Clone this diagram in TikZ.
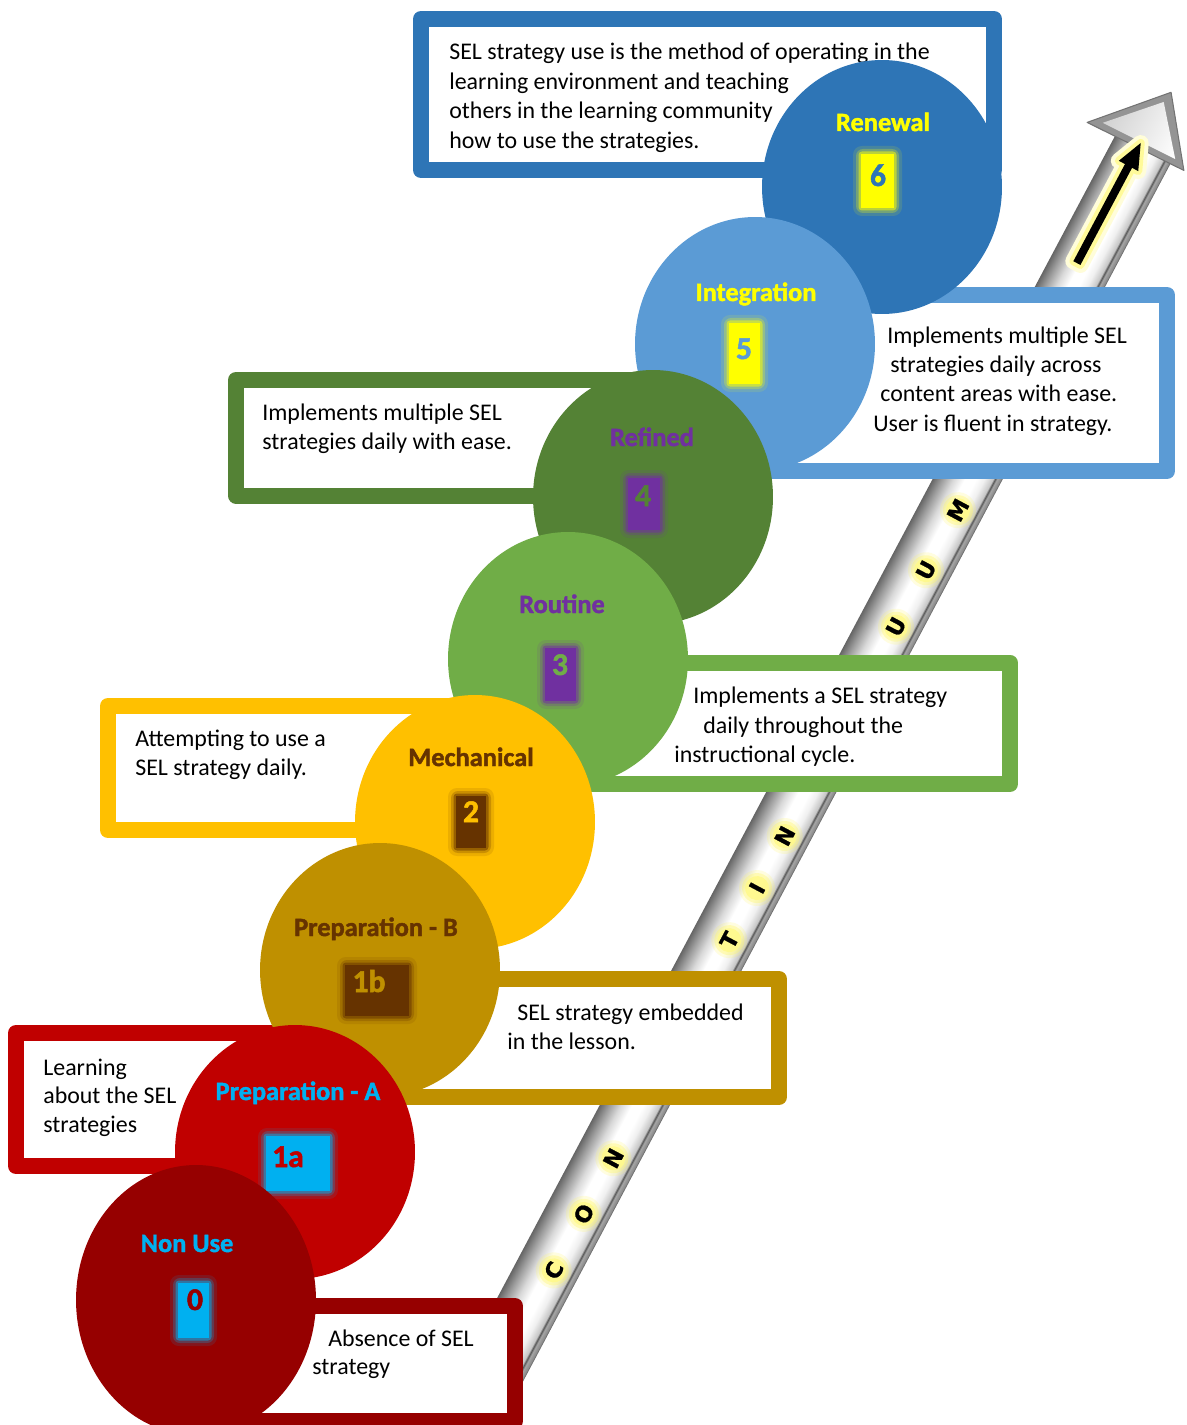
\documentclass[tikz,border=0pt]{standalone}
\usepackage{fontspec}
\setmainfont{Carlito}
\newfontfamily\heavyfont{Carlito}[BoldFeatures={FakeBold=1.6}]
\newfontfamily\arrowfont{DejaVu Sans}[BoldFeatures={FakeBold=1}]
\usetikzlibrary{arrows.meta}
\definecolor{cRenew}{HTML}{2E75B6}
\definecolor{cInteg}{HTML}{5B9BD5}
\definecolor{cRefin}{HTML}{548235}
\definecolor{cRout}{HTML}{70AD47}
\definecolor{cMech}{HTML}{FFC000}
\definecolor{cPrepB}{HTML}{BF9000}
\definecolor{cPrepA}{HTML}{C00000}
\definecolor{cNon}{HTML}{960000}
\definecolor{cYel}{HTML}{FFFF00}
\definecolor{cPurp}{HTML}{7030A0}
\definecolor{cBrown}{HTML}{663300}
\definecolor{cCyan}{HTML}{00B0F0}
\pgfdeclareverticalshading{metal}{100bp}{color(0bp)=(black!70); color(25bp)=(black!70); color(26.5bp)=(black!45); color(29bp)=(black!35); color(30.5bp)=(black!65); color(32bp)=(black!22); color(38bp)=(black!6); color(44bp)=(white); color(52bp)=(white); color(60bp)=(black!15); color(68bp)=(black!38); color(75bp)=(black!60); color(100bp)=(black!60)}
\newcommand\glowbox[5]{%
  \fill[#1, opacity=0.12, rounded corners=5pt] (#2-8,#3-8) rectangle (#4+8,#5+8);
  \fill[#1, opacity=0.25, rounded corners=4pt] (#2-5,#3-5) rectangle (#4+5,#5+5);
  \fill[#1, opacity=0.5, rounded corners=2pt] (#2-2.5,#3-2.5) rectangle (#4+2.5,#5+2.5);
  \fill[#1] (#2,#3) rectangle (#4,#5);}
\begin{document}
\begin{tikzpicture}[x=0.02cm,y=-0.02cm,
  frame/.style={line width=0.32cm, line join=round, fill=white},
  boxtext/.style={anchor=base west, inner sep=0pt, font=\fontsize{13.6}{16}\selectfont},
  stagelabel/.style={anchor=base, inner sep=0pt, font=\heavyfont\fontsize{15}{18}\selectfont\bfseries},
  stagenum/.style={anchor=base, inner sep=0pt, font=\heavyfont\fontsize{18}{20}\selectfont\bfseries},
  rung/.style={anchor=center, inner sep=0pt, rotate=62, font=\arrowfont\bfseries\fontsize{12.5}{14}\selectfont},
  glowA/.style={yellow!60!white, opacity=0.2},
  glowB/.style={yellow!60!white, opacity=0.35},
  glowC/.style={yellow!45!white, opacity=0.9},
  disc/.style={x radius=2.4cm, y radius=2.54cm}]
\useasboundingbox (0,0) rectangle (1186,1425);

% ---------- continuum arrow ----------
\begin{scope}[transform canvas={shift={(486,1385)},rotate=62}]
  \shade[shading=metal] (-15,-31) rectangle (1402,31);
  \filldraw[fill=black!42, draw=black!55, line width=0.6pt, line join=round] (1397,-62) -- (1463,-2) -- (1400,46) -- cycle;
  \shade[top color=black!18, bottom color=white] (1404,-48) -- (1451,-4) -- (1406,33) -- cycle;
\end{scope}
\begin{scope}[shift={(486,1385)},rotate=62]
  \foreach \a/\L/\n in {133/C/rc,197/O/ro,260/N/rn,507/T/rt,566/I/ri,625/N/rn2,862/U/ru,926/U/ru2,994/M/rm}{
    \fill[glowA] (\a,6) circle[radius=0.36cm];
    \fill[glowB] (\a,6) circle[radius=0.3cm];
    \fill[glowC] (\a,6) circle[radius=0.24cm];
    \node[rung] (\n) at (\a,6) {\L};
  }
  \draw[yellow!15!white, line width=0.32cm, line join=round, line cap=round] (1268,-9) -- (1378,-9) -- (1378,-16) -- (1404,-5) -- (1378,6) -- (1378,-1) -- (1268,-1) -- cycle;
  \draw[yellow!40!white, line width=0.16cm, line join=round] (1268,-9) -- (1378,-9) -- (1378,-16) -- (1404,-5) -- (1378,6) -- (1378,-1) -- (1268,-1) -- cycle;
  \fill[black] (1268,-9) -- (1378,-9) -- (1378,-16) -- (1404,-5) -- (1378,6) -- (1378,-1) -- (1268,-1) -- cycle;
\end{scope}

% ---------- description boxes ----------
\draw[frame, draw=cRenew] (421,19) rectangle (994,170);
\draw[frame, draw=cInteg] (700,295) rectangle (1167,471);
\draw[frame, draw=cRefin] (236,380) rectangle (650,495.5);
\draw[frame, draw=cRout] (560,662.5) rectangle (1010,784);
\draw[frame, draw=cMech] (108,706) rectangle (470,830);
\draw[frame, draw=cPrepB] (380,979) rectangle (779,1097);
\draw[frame, draw=cPrepA] (16,1033) rectangle (300,1166);
\draw[frame, draw=cNon] (240,1306) rectangle (515,1421);

\node[boxtext] (d61) at (449,60) {SEL strategy use is the method of operating in the};
\node[boxtext] (d62) at (449,89.5) {learning environment and teaching};
\node[boxtext] (d63) at (449,119) {others in the learning community};
\node[boxtext] (d64) at (449,148.5) {how to use the strategies.};

\node[boxtext] (d51) at (887,343.5) {Implements multiple SEL};
\node[boxtext] (d52) at (890,372.5) {strategies daily across};
\node[boxtext] (d53) at (880,401.5) {content areas with ease.};
\node[boxtext] (d54) at (873,431) {User is fluent in strategy.};

\node[boxtext] (d41) at (262,420.5) {Implements multiple SEL};
\node[boxtext] (d42) at (262,449.5) {strategies daily with ease.};

\node[boxtext] (d31) at (693,703.5) {Implements a SEL strategy};
\node[boxtext] (d32) at (703,733.5) {daily throughout the};
\node[boxtext] (d33) at (674,762.5) {instructional cycle.};

\node[boxtext] (d21) at (135,746.5) {Attempting to use a};
\node[boxtext] (d22) at (135,775.5) {SEL strategy daily.};

\node[boxtext] (db1) at (517,1020.5) {SEL strategy embedded};
\node[boxtext] (db2) at (507,1049.5) {in the lesson.};

\node[boxtext] (da1) at (43,1075.5) {Learning};
\node[boxtext] (da2) at (43,1103.5) {about the SEL};
\node[boxtext] (da3) at (43,1132.5) {strategies};

\node[boxtext] (d01) at (328,1346.5) {Absence of SEL};
\node[boxtext] (d02) at (312,1374.5) {strategy};

% ---------- stage discs ----------
\fill[cRenew] (882,187) ellipse [disc];
\node[stagelabel, text=cYel] (l6) at (883,131) {Renewal};
\glowbox{cYel}{861}{154}{894}{208}
\node[stagenum, text=cRenew] (n6) at (878,186) {6};

\fill[cInteg] (755,344) ellipse [disc];
\node[stagelabel, text=cYel] (l5) at (756,301) {Integration};
\glowbox{cYel}{729}{323}{760}{384}
\node[stagenum, text=cInteg] (n5) at (744,359) {5};

\fill[cRefin] (653,497) ellipse [disc];
\node[stagelabel, text=cPurp] (l4) at (652,446) {Refined};
\glowbox{cPurp}{628}{478}{660}{530}
\node[stagenum, text=cRefin] (n4) at (643,506) {4};

\fill[cRout] (568,659) ellipse [disc];
\node[stagelabel, text=cPurp] (l3) at (562,613) {Routine};
\glowbox{cPurp}{545}{648}{576}{701}
\node[stagenum, text=cRout] (n3) at (560,675) {3};

\fill[cMech] (475,822) ellipse [disc];
\node[stagelabel, text=cBrown] (l2) at (471,766) {Mechanical};
\glowbox{cBrown}{456}{796}{486}{848}
\node[stagenum, text=cMech] (n2) at (471,822) {2};

\fill[cPrepB] (380,970) ellipse [disc];
\node[stagelabel, text=cBrown] (lb) at (376,936) {Preparation - B};
\glowbox{cBrown}{345}{965}{409}{1016}
\node[stagenum, text=cPrepB] (nb) at (369,992) {1b};

\fill[cPrepA] (295,1152) ellipse [disc];
\node[stagelabel, text=cCyan] (la) at (298,1100) {Preparation - A};
\glowbox{cCyan}{266}{1136}{330}{1191}
\node[stagenum, text=cPrepA] (na) at (288,1167) {1a};

\fill[cNon] (196,1300) ellipse [x radius=2.4cm, y radius=2.7cm];
\node[stagelabel, text=cCyan] (l0) at (187,1252) {Non Use};
\glowbox{cCyan}{178}{1283}{209}{1338}
\node[stagenum, text=cNon] (n0) at (195,1310) {0};
\end{tikzpicture}
\end{document}
